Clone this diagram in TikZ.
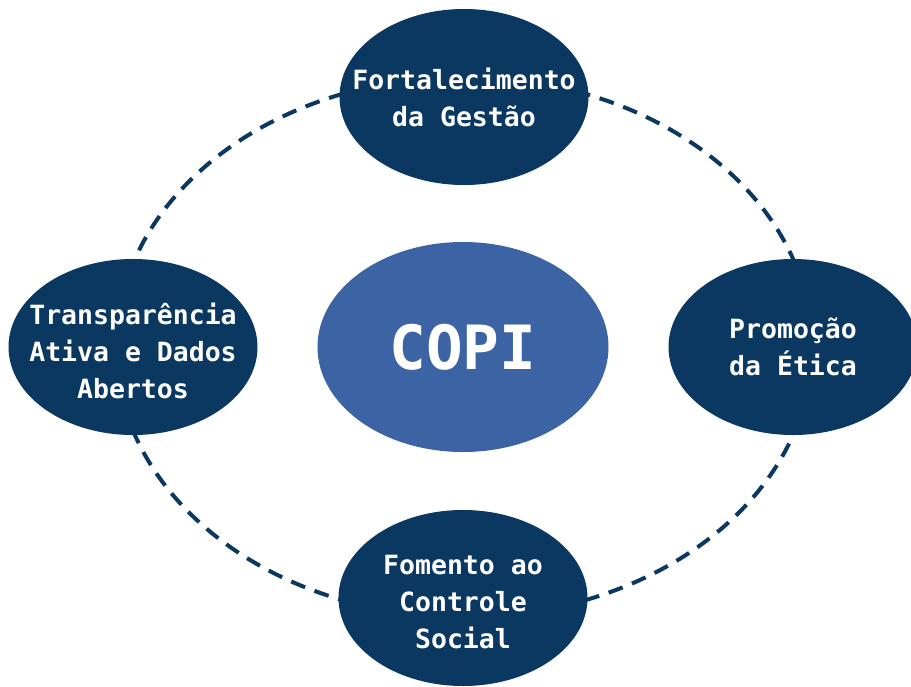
\documentclass[tikz,border=0pt]{standalone}
\usepackage{fontspec}
\setmonofont{DejaVu Sans Mono}
\usetikzlibrary{shapes.geometric}
\definecolor{darkblue}{RGB}{10,56,96}
\definecolor{midblue}{RGB}{60,100,164}
\begin{document}
\begin{tikzpicture}[x=1pt,y=-1pt,
  pillartext/.style={text=white, align=center, inner sep=0pt,
    font=\ttfamily\bfseries\fontsize{26.5}{37}\selectfont},
  pillarshape/.style={ellipse, fill=darkblue, draw=none, inner sep=0pt,
    minimum width=249pt, minimum height=176pt},
  pillar/.style={pillarshape, label={[pillartext]center:#1}},
  pillarlow/.style={pillarshape, label={[pillartext, yshift=-4pt]center:#1}},
  core/.style={ellipse, fill=midblue, draw=none, inner sep=0pt,
    minimum width=291pt, minimum height=210pt, text=white,
    font=\ttfamily\bfseries\fontsize{61}{70}\selectfont},
  ring/.style={draw=darkblue, line width=4pt, dash pattern=on 15pt off 10pt}]
\useasboundingbox (0,0) rectangle (911,686);
\fill[white] (0,0) rectangle (911,686);
\coordinate (ringc) at (464,347);
\draw[ring] (ringc) ellipse [x radius=348, y radius=270];
\node[core] (copi) at (463,347) {COPI};
\node[pillar={Fortalecimento\\da Gestão}] (top) at (464,97) {};
\node[pillar={Promoção\\da Ética}] (right) at (793,347) {};
\node[pillarlow={Fomento ao\\Controle\\Social}] (bottom) at (463,598) {};
\node[pillarlow={Transparência\\Ativa e Dados\\Abertos}] (left) at (133,347) {};
\end{tikzpicture}
\end{document}
